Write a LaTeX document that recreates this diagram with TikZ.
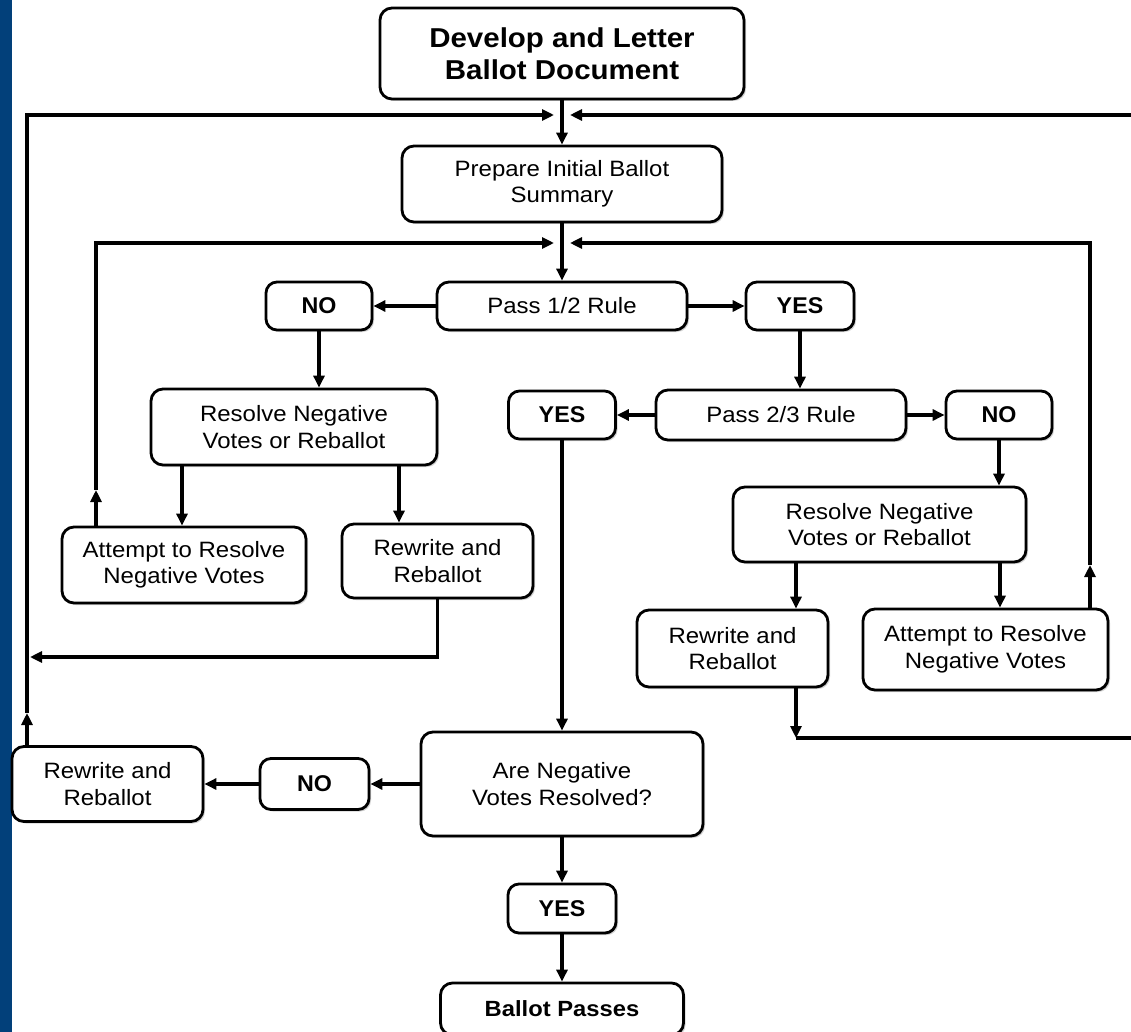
\documentclass[tikz,border=0pt]{standalone}
\usepackage{fontspec}
\setmainfont{Liberation Sans}[FakeStretch=1.08]
\newfontfamily\yesno{Liberation Sans}[FakeStretch=1.02]
\usetikzlibrary{arrows.meta,shadows}
\definecolor{strip}{RGB}{2,64,122}
\begin{document}
\begin{tikzpicture}[x=1pt,y=-1pt,
  box/.style={draw, line width=2.8pt, rounded corners=12pt, fill=white, align=center, inner sep=0pt,
    drop shadow={shadow xshift=2pt, shadow yshift=-2pt, fill=black!35},
    font=\fontsize{22.2}{26.5}\selectfont},
  title/.style={box, font=\fontsize{27.3}{32}\selectfont\bfseries},
  yn/.style={box, rounded corners=11pt, font=\yesno\fontsize{22.8}{26}\selectfont\bfseries},
  bbold/.style={box, font=\fontsize{22}{26}\selectfont\bfseries},
  ln/.style={line width=3.1pt},
  arr/.style={ln, -{Triangle[length=12pt,width=11pt]}}]
\useasboundingbox (0,0) rectangle (1131,1032);
\fill[white] (0,0) rectangle (1131,1032);
\clip (0,0) rectangle (1131,1032);
\fill[strip] (0,0) rectangle (12,1032);

% nodes
\node[title, minimum width=364pt, minimum height=91pt] (dev) at (562,53.5) {Develop and Letter\\Ballot Document};
\node[box, minimum width=320pt, minimum height=76pt] (prep) at (562,184) {Prepare Initial Ballot\\Summary};
\node[box, minimum width=250pt, minimum height=48pt] (p12) at (562,306) {Pass 1/2 Rule};
\node[yn, minimum width=106pt, minimum height=48pt] (no1) at (319,306) {NO};
\node[yn, minimum width=108pt, minimum height=48pt] (yes1) at (800,306) {YES};
\node[box, minimum width=286pt, minimum height=76pt] (res1) at (294,427) {Resolve Negative\\Votes or Reballot};
\node[box, minimum width=244pt, minimum height=76pt] (att1) at (184,565) {Attempt to Resolve\\Negative Votes};
\node[box, minimum width=191pt, minimum height=74pt] (rew1) at (437.5,561) {Rewrite and\\Reballot};
\node[box, minimum width=250pt, minimum height=50pt] (p23) at (781,415) {Pass 2/3 Rule};
\node[yn, minimum width=107pt, minimum height=48pt] (yes2) at (562,415) {YES};
\node[yn, minimum width=106pt, minimum height=48pt] (no2) at (999,415) {NO};
\node[box, minimum width=293pt, minimum height=75pt] (res2) at (879.5,524.5) {Resolve Negative\\Votes or Reballot};
\node[box, minimum width=191pt, minimum height=77pt] (rew2) at (732.5,648.5) {Rewrite and\\Reballot};
\node[box, minimum width=245pt, minimum height=81pt] (att2) at (985.5,649.5) {Attempt to Resolve\\Negative Votes};
\node[box, minimum width=282pt, minimum height=104pt] (are) at (562,784) {Are Negative\\Votes Resolved?};
\node[yn, minimum width=109pt, minimum height=51pt] (no3) at (314.5,784) {NO};
\node[box, minimum width=191pt, minimum height=75pt] (rew3) at (107.5,784) {Rewrite and\\Reballot};
\node[yn, minimum width=108pt, minimum height=49pt] (yes3) at (562,908.5) {YES};
\node[bbold, minimum width=243pt, minimum height=52pt] (pass) at (562,1009) {Ballot Passes};

% helper coordinates
\coordinate (xa) at (182,0);
\coordinate (xb) at (399,0);
\coordinate (xc) at (796,0);
\coordinate (xd) at (1000,0);
\coordinate (m1L) at (554,115);
\coordinate (m1R) at (570,115);
\coordinate (m2L) at (554,243);
\coordinate (m2R) at (570,243);
\coordinate (tl) at (27,115);
\coordinate (tr) at (1140,115);
\coordinate (a3) at (27,713);
\coordinate (c2l) at (96,243);
\coordinate (a1) at (96,490);
\coordinate (c2r) at (1090,243);
\coordinate (a2) at (1090,565);
\coordinate (c1) at (437.5,657);
\coordinate (c1e) at (30,657);
\coordinate (b2) at (796,738);
\coordinate (br) at (1140,738);

% connectors
\draw[arr] (dev) -- (prep);
\draw[arr] (prep) -- (p12);
\draw[arr] (p12) -- (no1);
\draw[arr] (p12) -- (yes1);
\draw[arr] (no1.south) -- (no1.south |- res1.north);
\draw[arr] (yes1.south) -- (yes1.south |- p23.north);
\draw[arr] (res1.south -| xa) -- (att1.north -| xa);
\draw[arr] (res1.south -| xb) -- (rew1.north -| xb);
\draw[arr] (att1.north -| a1) -- (a1);
\draw[arr] (a1) -- (c2l) -- (m2L);
\draw[arr] (rew1.south) -- (c1) -- (c1e);
\draw[arr] (rew3.north -| a3) -- (a3);
\draw[arr] (a3) -- (tl) -- (m1L);
\draw[arr] (tr) -- (m1R);
\draw[arr] (p23) -- (yes2);
\draw[arr] (p23) -- (no2);
\draw[arr] (no2.south) -- (no2.south |- res2.north);
\draw[arr] (res2.south -| xc) -- (rew2.north -| xc);
\draw[arr] (res2.south -| xd) -- (att2.north -| xd);
\draw[arr] (att2.north -| a2) -- (a2);
\draw[arr] (a2) -- (c2r) -- (m2R);
\draw[arr] (rew2.south -| xc) -- (b2);
\draw[ln] (b2) -- (br);
\draw[arr] (yes2) -- (are);
\draw[arr] (are) -- (no3);
\draw[arr] (no3) -- (rew3);
\draw[arr] (are) -- (yes3);
\draw[arr] (yes3) -- (pass);
\end{tikzpicture}
\end{document}
